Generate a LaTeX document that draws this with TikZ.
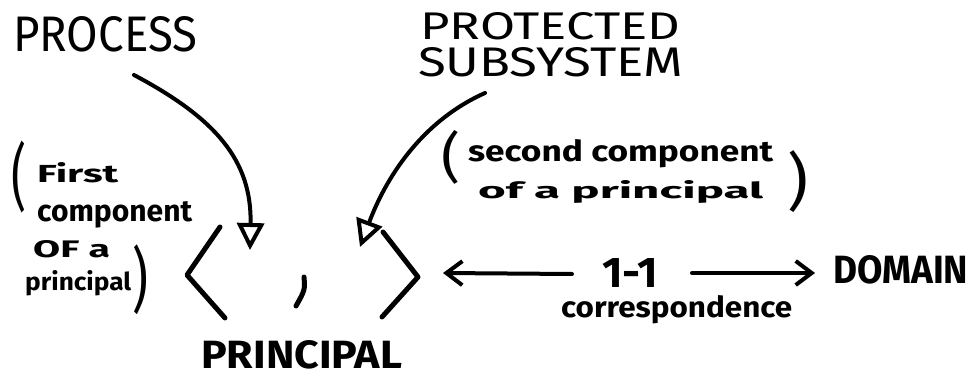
\documentclass[tikz,border=0pt]{standalone}
\usepackage{fontspec}
\setmainfont{Fira Sans}
\usepackage{graphicx}
\usetikzlibrary{arrows.meta}

% text fitted to a given width and height (in pt)
\newcommand\fitto[3]{\resizebox{#1pt}{#2pt}{#3}}
\newcommand\fittotal[3]{\resizebox*{#1pt}{#2pt}{#3}}

\tikzset{
  lbl/.style={inner sep=0pt, anchor=base west},
  paren/.style={inner sep=0pt, anchor=north west},
  curvearrow/.style={line width=4pt, line cap=round,
    -{Triangle[open,length=27pt,width=27pt]}},
  harrow/.style={line width=4pt, line cap=round,
    -{Straight Barb[length=16pt,width=24pt]}},
  bracket/.style={line width=5pt, line cap=round, line join=round},
}

\begin{document}
\begin{tikzpicture}[x=1pt,y=1pt]
\useasboundingbox (0,0) rectangle (971,378);

% top labels
\node[lbl] (process) at (13,326) {\fitto{184}{35}{PROCESS}};
\node[lbl] (protected) at (420,338) {\fitto{260}{27}{PROTECTED}};
\node[lbl] (subsystem) at (418,301) {\fitto{265}{29}{SUBSYSTEM}};

% first component note
\node[paren] (lpo) at (11,237) {\fittotal{15}{72}{(}};
\node[lbl] (first) at (37,196) {\fitto{81}{20}{\bfseries First}};
\node[lbl] (comp1) at (37,157) {\fitto{155}{20}{\bfseries component}};
\node[lbl] (ofa1) at (33,121) {\fitto{77}{17}{\bfseries OF a}};
\node[lbl] (princ1) at (25,88) {\fitto{106}{20}{\bfseries principal}};
\node[paren] (lpc) at (132,133) {\fittotal{16}{70}{)}};

% second component note
\node[paren] (rpo) at (441,248) {\fittotal{19}{54}{(}};
\node[lbl] (second) at (468,217) {\fitto{305}{22}{\bfseries second component}};
\node[lbl] (ofa2) at (478,180) {\fitto{285}{18}{\bfseries of a principal}};
\node[paren] (rpc) at (787,228) {\fittotal{21}{62}{)}};

% the pair
\coordinate (lbt) at (220,151);
\coordinate (lbv) at (187,103);
\coordinate (lbb) at (225,60);
\coordinate (rbt) at (383,146);
\coordinate (rbv) at (418,101);
\coordinate (rbb) at (382,61);
\draw[bracket] (lbt) -- (lbv) -- (lbb);
\draw[bracket] (rbt) -- (rbv) -- (rbb);
\draw[bracket] (304,101) .. controls (305,88) .. (296,72);
\node[lbl] (principal) at (201,10) {\fitto{201}{28}{\bfseries PRINCIPAL}};

% arrows into the pair
\coordinate (ptail) at (134,303);
\coordinate (slot1) at (250,128);
\coordinate (stail) at (485,285);
\coordinate (slot2) at (360,131);
\draw[curvearrow] (ptail) .. controls (215,260) and (252,218) .. (slot1);
\draw[curvearrow] (stail) .. controls (420,256) and (385,198) .. (slot2);

% correspondence with the domain
\node[lbl] (oneone) at (602,91) {\fitto{56}{29}{\bfseries 1-1}};
\node[lbl] (corr) at (561,61) {\fitto{231}{22}{\bfseries correspondence}};
\node[lbl] (domain) at (833,95) {\fitto{135}{28}{\bfseries DOMAIN}};
\coordinate (ltail) at (572,104);
\coordinate (lhead) at (443,105);
\coordinate (rtail) at (692,105);
\coordinate (rhead) at (815,105);
\draw[harrow] (ltail) -- (lhead);
\draw[harrow] (rtail) -- (rhead);
\end{tikzpicture}
\end{document}
